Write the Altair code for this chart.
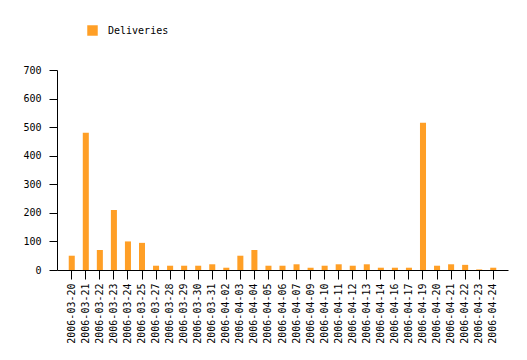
import altair as alt
import pandas as pd

dates = ["2006-03-20", "2006-03-21", "2006-03-22", "2006-03-23", "2006-03-24",
         "2006-03-25", "2006-03-27", "2006-03-28", "2006-03-29", "2006-03-30",
         "2006-03-31", "2006-04-02", "2006-04-03", "2006-04-04", "2006-04-05",
         "2006-04-06", "2006-04-07", "2006-04-09", "2006-04-10", "2006-04-11",
         "2006-04-12", "2006-04-13", "2006-04-14", "2006-04-16", "2006-04-17",
         "2006-04-19", "2006-04-20", "2006-04-21", "2006-04-22", "2006-04-23",
         "2006-04-24"]
deliveries = [50, 480, 70, 210, 100, 95, 15, 15, 15, 15, 20, 8, 50, 70, 15,
              15, 20, 8, 15, 20, 15, 20, 8, 8, 8, 515, 15, 20, 18, 2, 8]
series_name = "Deliveries"
y_ticks = [0, 100, 200, 300, 400, 500, 600, 700]

df = pd.DataFrame({"date": dates, "value": deliveries, "series": series_name})

FONT = "DejaVu Sans Mono"
ORANGE = "#ff9f26"

chart = alt.Chart(df).mark_bar(color=ORANGE).encode(
    x=alt.X("date:N", sort=dates,
            scale=alt.Scale(paddingInner=0.57, paddingOuter=0.835),
            axis=alt.Axis(title=None, labelAngle=-90, labelFont=FONT, labelFontSize=10,
                          labelColor="black", tickColor="black", domainColor="black",
                          tickSize=9, labelPadding=4, grid=False, labelOverlap=False)),
    y=alt.Y("value:Q", scale=alt.Scale(domain=[0, 700], nice=False),
            axis=alt.Axis(title=None, values=y_ticks, labelFont=FONT, labelFontSize=10,
                          labelColor="black", tickColor="black", domainColor="black",
                          tickSize=8, labelPadding=8, grid=False)),
    color=alt.Color("series:N", scale=alt.Scale(range=[ORANGE]),
                    legend=alt.Legend(title=None, orient="none", legendX=30, legendY=-45,
                                      symbolType="square", symbolSize=110,
                                      symbolStrokeWidth=0, symbolOpacity=1,
                                      labelFont=FONT, labelFontSize=10, labelColor="black",
                                      labelOffset=10, padding=0)),
).properties(
    width=451, height=200,
    autosize=alt.AutoSizeParams(type="none"),
    padding={"left": 49, "top": 62, "right": 10, "bottom": 80},
).configure_view(stroke=None)

chart.save("out.html", embed_options={"renderer": "svg", "actions": False})
